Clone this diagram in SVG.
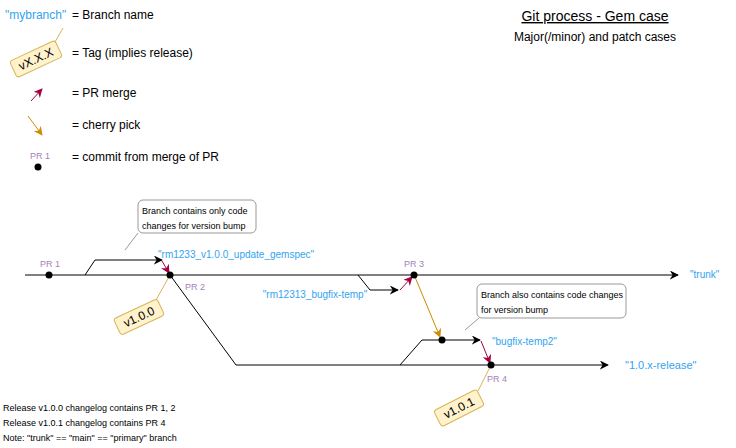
<svg xmlns="http://www.w3.org/2000/svg" width="736" height="448" viewBox="0 0 736 448">
<style>
text{font-family:"Liberation Sans",Arial,sans-serif;}
.lbl{font-size:12px;fill:#000;}
.br{font-size:10px;fill:#33A3F0;}
.pr{font-size:9px;fill:#A680B8;text-anchor:middle;}
.note{font-size:9px;fill:#000;}
.ln{stroke:#000;stroke-width:1;fill:none;}
.merge{stroke:#A50040;stroke-width:1;fill:none;}
.cherry{stroke:#D08A00;stroke-width:1;fill:none;}
.tagl{stroke:#D6B656;stroke-width:1;fill:none;}
.tag{fill:#FFF2CC;stroke:#D6B656;stroke-width:1;}
.tagt{font-size:12px;fill:#000;text-anchor:middle;}
.call{fill:#fff;stroke:#999;stroke-width:1;}
.callp{stroke:#999;stroke-width:1;fill:none;}
.dot{fill:#000;}
</style>
<defs>
<marker id="ab" viewBox="0 0 10 10" refX="9" refY="5" markerWidth="9" markerHeight="9" orient="auto" markerUnits="userSpaceOnUse"><path d="M0,0 L10,5 L0,10 L3,5 Z" fill="#000"/></marker>
<marker id="ar" viewBox="0 0 10 10" refX="9" refY="5" markerWidth="9" markerHeight="9" orient="auto" markerUnits="userSpaceOnUse"><path d="M0,0 L10,5 L0,10 L3,5 Z" fill="#A50040"/></marker>
<marker id="ao" viewBox="0 0 10 10" refX="9" refY="5" markerWidth="9" markerHeight="9" orient="auto" markerUnits="userSpaceOnUse"><path d="M0,0 L10,5 L0,10 L3,5 Z" fill="#D08A00"/></marker>
</defs>

<g id="title">
<text x="595" y="21" font-size="14" text-anchor="middle" text-decoration="underline">Git process - Gem case</text>
<text x="595" y="41" font-size="12" text-anchor="middle">Major(/minor) and patch cases</text>
</g>

<g id="legend">
<text x="5" y="19" font-size="12" fill="#33A3F0">"mybranch"</text>
<text x="72" y="19" class="lbl">= Branch name</text>
<line x1="63" y1="28" x2="55" y2="42" class="tagl"/>
<g transform="translate(36,59) rotate(-25)"><rect x="-25" y="-9" width="50" height="18" rx="3" class="tag"/><text x="0" y="4" class="tagt">vX.X.X</text></g>
<text x="72" y="57" class="lbl">= Tag (implies release)</text>
<line x1="31" y1="101" x2="42" y2="89" class="merge" marker-end="url(#ar)"/>
<text x="72" y="97" class="lbl">= PR merge</text>
<line x1="28" y1="116" x2="42" y2="135" class="cherry" marker-end="url(#ao)"/>
<text x="72" y="129" class="lbl">= cherry pick</text>
<text x="40" y="159" class="pr">PR 1</text>
<circle cx="38" cy="167" r="3.5" class="dot"/>
<text x="72" y="161" class="lbl">= commit from merge of PR</text>
</g>

<g id="connectors">
<line x1="25" y1="275" x2="678" y2="275" class="ln" marker-end="url(#ab)"/>
<polyline points="85,275 95,260 162,260" class="ln" marker-end="url(#ab)"/>
<line x1="162" y1="261" x2="169" y2="273" class="merge" marker-end="url(#ar)"/>
<polyline points="170,275 236,365 608,365" class="ln" marker-end="url(#ab)"/>
<polyline points="358,275 370,290 398,290" class="ln" marker-end="url(#ab)"/>
<line x1="400" y1="290" x2="412" y2="277" class="merge" marker-end="url(#ar)"/>
<line x1="415" y1="277" x2="440" y2="337" class="cherry" marker-end="url(#ao)"/>
<polyline points="400,365 422,340 480,340" class="ln" marker-end="url(#ab)"/>
<line x1="481" y1="341" x2="490" y2="363" class="merge" marker-end="url(#ar)"/>
<line x1="170" y1="275" x2="156" y2="300" class="tagl"/>
<line x1="491" y1="365" x2="478" y2="391" class="tagl"/>
</g>

<g id="trunk">
<text x="690" y="278" class="br">"trunk"</text>
</g>
<g id="release">
<text x="625" y="369" font-size="11" fill="#33A3F0">"1.0.x-release"</text>
</g>

<g id="pr1">
<circle cx="49" cy="275" r="3.5" class="dot"/>
<text x="50" y="267" class="pr">PR 1</text>
</g>
<g id="pr2">
<circle cx="170" cy="275" r="3.5" class="dot"/>
<text x="195" y="290" class="pr">PR 2</text>
</g>
<g id="pr3">
<circle cx="414" cy="275" r="3.5" class="dot"/>
<text x="414" y="267" class="pr">PR 3</text>
</g>
<g id="cherry-commit">
<circle cx="442" cy="340" r="3.5" class="dot"/>
</g>
<g id="pr4">
<circle cx="491" cy="365" r="3.5" class="dot"/>
<text x="497" y="382" class="pr">PR 4</text>
</g>

<g id="branch-gemspec">
<text x="158" y="258" class="br">"rm1233_v1.0.0_update_gemspec"</text>
</g>
<g id="branch-bugfix">
<text x="315" y="298" class="br" text-anchor="middle">"rm12313_bugfix-temp"</text>
</g>
<g id="branch-bugfix2">
<text x="492" y="345" class="br">"bugfix-temp2"</text>
</g>

<g id="callout1">
<rect x="138" y="200" width="118" height="33" rx="5" class="call"/>
<line x1="138" y1="233" x2="125" y2="250" class="callp"/>
<text x="142" y="214" class="note">Branch contains only code</text>
<text x="142" y="229" class="note">changes for version bump</text>
</g>
<g id="callout2">
<rect x="477" y="284" width="149" height="34" rx="5" class="call"/>
<line x1="479" y1="318" x2="465" y2="330" class="callp"/>
<text x="481" y="298" class="note">Branch also contains code changes</text>
<text x="481" y="313" class="note">for version bump</text>
</g>

<g id="tag-v100">
<g transform="translate(139,317) rotate(-25)"><rect x="-24" y="-9" width="48" height="18" rx="3" class="tag"/><text x="0" y="4" class="tagt">v1.0.0</text></g>
</g>
<g id="tag-v101">
<g transform="translate(459,408) rotate(-27)"><rect x="-24" y="-9" width="48" height="18" rx="3" class="tag"/><text x="0" y="4" class="tagt">v1.0.1</text></g>
</g>

<g id="notes">
<text x="3" y="411" class="note">Release v1.0.0 changelog contains PR 1, 2</text>
<text x="3" y="426" class="note">Release v1.0.1 changelog contains PR 4</text>
<text x="3" y="441" class="note">Note: "trunk" == "main" == "primary" branch</text>
</g>
</svg>
